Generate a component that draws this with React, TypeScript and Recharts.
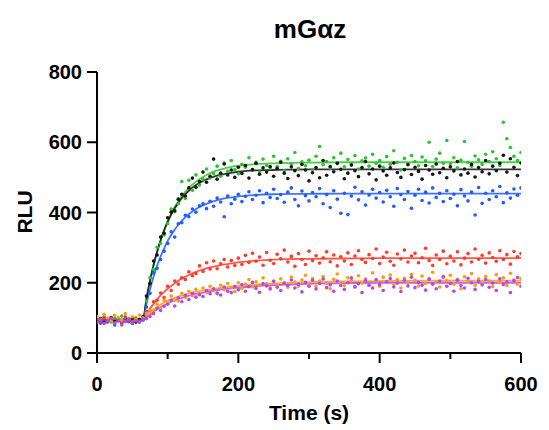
import React from "react";
import {
  ComposedChart,
  Scatter,
  Line,
  XAxis,
  YAxis,
} from "recharts";

// ---------- data ----------
const TIMES = [
  0, 5, 10, 15, 20, 25, 30, 35, 40, 45,
  50, 55, 60, 65, 70, 75, 80, 85, 90, 95,
  100, 105, 110, 115, 120, 125, 130, 135, 140, 145,
  150, 155, 160, 165, 170, 175, 180, 185, 190, 195,
  200, 205, 210, 215, 220, 225, 230, 235, 240, 245,
  250, 255, 260, 265, 270, 275, 280, 285, 290, 295,
  300, 305, 310, 315, 320, 325, 330, 335, 340, 345,
  350, 355, 360, 365, 370, 375, 380, 385, 390, 395,
  400, 405, 410, 415, 420, 425, 430, 435, 440, 445,
  450, 455, 460, 465, 470, 475, 480, 485, 490, 495,
  500, 505, 510, 515, 520, 525, 530, 535, 540, 545,
  550, 555, 560, 565, 570, 575, 580, 585, 590, 595,
  600,
];

const GREEN_PTS = [
  97, 91, 103, 94, 88, 99, 93, 105, 90, 96,
  92, 100, 89, 98, 148, 215, 238, 301, 312, 336,
  368, 410, 402, 425, 488, 440, 492, 463, 507, 478,
  495, 524, 499, 511, 532, 503, 541, 517, 548, 522,
  510, 537, 529, 556, 521, 543, 515, 552, 534, 527,
  560, 531, 546, 519, 553, 538, 571, 525, 544, 533,
  549, 522, 560, 588, 536, 545, 527, 556, 541, 569,
  530, 551, 538, 562, 524, 547, 555, 532, 566, 540,
  548, 529, 559, 537, 576, 543, 521, 554, 539, 562,
  545, 533, 558, 547, 600, 531, 552, 569, 540, 605,
  538, 556, 527, 549, 602, 543, 532, 561, 550, 537,
  566, 545, 573, 553, 534, 657, 610, 585, 560, 548,
  571,
];

const BLACK_PTS = [
  92, 98, 88, 95, 101, 90, 94, 86, 97, 92,
  99, 88, 96, 104, 162, 198, 262, 279, 330, 341,
  385, 401, 405, 438, 452, 447, 470, 498, 472, 488,
  515, 486, 503, 552, 495, 512, 538, 507, 521, 500,
  529, 511, 534, 498, 522, 540, 509, 527, 515, 531,
  503, 526, 543, 512, 497, 530, 519, 505, 537, 521,
  490, 513, 528, 499, 548, 506, 531, 516, 540, 523,
  496, 512, 535, 519, 502, 528, 545, 510, 524, 493,
  532, 518, 506, 527, 541, 514, 500, 522, 536, 508,
  529, 517, 495, 534, 521, 509, 538, 513, 526, 499,
  530, 518, 545, 507, 524, 512, 537, 501, 528, 516,
  548, 510, 532, 519, 540, 563, 515, 553, 529, 505,
  541,
];

const BLUE_PTS = [
  90, 85, 96, 88, 93, 80, 91, 87, 95, 89,
  84, 92, 88, 94, 131, 170, 228, 241, 266, 290,
  312, 345, 330, 368, 371, 392, 388, 410, 401, 419,
  425, 411, 432, 418, 441, 430, 388, 447, 425, 438,
  452, 431, 446, 459, 437, 449, 462, 428, 455, 443,
  466, 440, 451, 429, 458, 470, 437, 419, 461, 448,
  433, 457, 445, 468, 425, 451, 414, 462, 438, 398,
  455, 394, 447, 472, 436, 459, 421, 450, 466, 441,
  457, 430, 463, 445, 418, 468, 451, 437, 460, 412,
  449, 466, 434, 458, 427, 470, 443, 455, 431, 462,
  440, 452, 419, 465, 447, 433, 458, 393, 471, 426,
  455, 437, 462, 445, 474, 428, 456, 441, 467, 449,
  470,
];

const RED_PTS = [
  96, 89, 101, 92, 98, 85, 95, 90, 103, 94,
  88, 97, 91, 99, 118, 121, 146, 150, 171, 158,
  190, 178, 205, 196, 214, 209, 231, 220, 226, 248,
  232, 257, 239, 262, 240, 254, 266, 245, 263, 249,
  270, 252, 278, 258, 284, 261, 273, 250, 286, 264,
  255, 281, 268, 293, 259, 275, 247, 283, 266, 252,
  290, 263, 277, 256, 271, 288, 260, 279, 248, 274,
  262, 285, 252, 276, 291, 266, 258, 280, 269, 296,
  255, 273, 287, 261, 250, 282, 268, 293, 259, 276,
  284, 257, 271, 298, 263, 249, 279, 266, 290, 254,
  275, 262, 288, 251, 270, 283, 259, 296, 267, 278,
  256, 285, 272, 261, 291, 266, 280, 253, 289, 274,
  283,
];

const ORANGE_PTS = [
  104, 96, 110, 99, 91, 107, 101, 94, 112, 98,
  103, 95, 108, 100, 112, 121, 118, 139, 129, 150,
  143, 162, 151, 148, 170, 158, 176, 163, 181, 169,
  185, 172, 190, 177, 168, 193, 180, 198, 186, 175,
  200, 184, 196, 209, 188, 203, 192, 214, 197, 186,
  205, 193, 211, 199, 187, 216, 202, 190, 208, 221,
  196, 212, 189, 205, 218, 198, 183, 210, 225, 201,
  192, 214, 206, 187, 220, 199, 211, 193, 228, 204,
  190, 216, 203, 222, 195, 209, 185, 213, 200, 224,
  207, 191, 219, 198, 212, 230, 202, 188, 215, 206,
  221, 196, 210, 183, 217, 204, 226, 193, 211, 199,
  218, 205, 189, 223, 201, 214, 192, 227, 208, 196,
  212,
];

const PURPLE_PTS = [
  88, 95, 84, 91, 99, 86, 93, 80, 90, 97,
  85, 92, 89, 96, 98, 104, 112, 127, 121, 133,
  139, 150, 134, 157, 146, 164, 152, 170, 159, 166,
  161, 178, 169, 183, 171, 165, 188, 176, 172, 190,
  180, 195, 176, 189, 201, 184, 173, 198, 191, 182,
  204, 187, 178, 199, 193, 208, 185, 196, 174, 201,
  190, 207, 182, 198, 211, 186, 194, 176, 205, 192,
  181, 200, 214, 189, 197, 172, 206, 193, 185, 209,
  195, 178, 203, 212, 188, 199, 175, 207, 191, 216,
  186, 201, 193, 179, 210, 196, 183, 205, 218, 190,
  198, 176, 207, 192, 185, 213, 200, 181, 204, 194,
  209, 187, 199, 178, 211, 195, 203, 172, 206, 215,
  190,
];

// fitted curves
const FIT_TIMES = [
  0, 65, 70, 75, 80, 85, 90, 95, 100, 105, 110, 115, 120, 125, 130,
  140, 150, 160, 170, 180, 190, 200, 225, 250, 300, 350, 400, 500, 600,
];
const GREEN_FIT = [
  95, 95, 154, 204, 249, 287, 320, 349, 375, 397, 416, 432, 447, 459, 470,
  488, 501, 512, 520, 525, 530, 533, 538, 540, 542, 543, 543, 543, 543,
];
const BLACK_FIT = [
  95, 95, 155, 206, 250, 288, 321, 349, 373, 394, 412, 427, 441, 452, 462,
  478, 490, 498, 505, 509, 513, 516, 520, 521, 523, 523, 523, 523, 523,
];
const BLUE_FIT = [
  93, 93, 140, 181, 217, 248, 275, 298, 319, 336, 351, 365, 376, 387, 395,
  410, 420, 429, 435, 440, 443, 446, 450, 452, 453, 454, 454, 454, 454,
];
const RED_FIT = [
  95, 95, 112, 127, 140, 153, 164, 174, 183, 191, 199, 206, 212, 217, 222,
  231, 238, 244, 248, 252, 255, 258, 263, 266, 268, 269, 270, 270, 270,
];
const ORANGE_FIT = [
  95, 95, 106, 116, 124, 131, 138, 144, 149, 153, 157, 161, 164, 167, 169,
  174, 178, 181, 184, 187, 189, 191, 195, 198, 202, 204, 205, 206, 206,
];
const PURPLE_FIT = [
  92, 92, 101, 109, 117, 124, 130, 136, 141, 146, 150, 154, 157, 160, 163,
  168, 172, 176, 179, 182, 184, 186, 190, 193, 197, 199, 200, 200, 200,
];

const X_TICKS = [0, 100, 200, 300, 400, 500, 600];
const Y_TICKS = [0, 200, 400, 600, 800];

const TITLE = "mGαz";
const X_LABEL = "Time (s)";
const Y_LABEL = "RLU";

// ---------- styling ----------
const FONT = "'Liberation Sans', Arial, Helvetica, sans-serif";

const SERIES = [
  { name: "green", pts: GREEN_PTS, fit: GREEN_FIT, color: "#2dc32d" },
  { name: "black", pts: BLACK_PTS, fit: BLACK_FIT, color: "#141414" },
  { name: "blue", pts: BLUE_PTS, fit: BLUE_FIT, color: "#1f5bff" },
  { name: "red", pts: RED_PTS, fit: RED_FIT, color: "#ff3a2a" },
  { name: "orange", pts: ORANGE_PTS, fit: ORANGE_FIT, color: "#ff9a10" },
  { name: "purple", pts: PURPLE_PTS, fit: PURPLE_FIT, color: "#b348f0" },
];

const toPoints = (vals: number[]) =>
  TIMES.map((t, i) => ({ t, v: vals[i] })).filter((d) => d.v !== undefined);
const toFit = (vals: number[]) => FIT_TIMES.map((t, i) => ({ t, v: vals[i] }));

const TICK_SIZE = 10;

const XTick = (props: any) => {
  const { x, y, payload } = props;
  const v = payload.value as number;
  const major = v % 200 === 0;
  const base = y - TICK_SIZE;
  return (
    <g>
      <line
        x1={x}
        x2={x}
        y1={base}
        y2={base + (major ? 10 : 6)}
        stroke="#000"
        strokeWidth={2}
      />
      {major && (
        <text
          x={x}
          y={base + 38}
          textAnchor="middle"
          fontFamily={FONT}
          fontWeight="bold"
          fontSize={20}
          fill="#000"
        >
          {v}
        </text>
      )}
    </g>
  );
};

const YTick = (props: any) => {
  const { x, y, payload } = props;
  return (
    <text
      x={x + 1}
      y={y}
      dy={7}
      textAnchor="end"
      fontFamily={FONT}
      fontWeight="bold"
      fontSize={20}
      fill="#000"
    >
      {payload.value}
    </text>
  );
};

const makeDot = (color: string) => (props: any) => {
  const { cx, cy } = props;
  if (cx == null || cy == null) return <g />;
  return <circle cx={cx} cy={cy} r={1.8} fill={color} />;
};

export default function App() {
  return (
    <div
      style={{
        position: "absolute",
        left: 0,
        top: 0,
        width: 549,
        height: 430,
        background: "#fff",
      }}
    >
      <ComposedChart
        width={549}
        height={430}
        margin={{ top: 72, right: 28, left: 17, bottom: 27 }}
      >
        <XAxis
          dataKey="t"
          type="number"
          domain={[0, 600]}
          ticks={X_TICKS}
          allowDataOverflow
          height={50}
          tickLine={false}
          tickSize={TICK_SIZE}
          tickMargin={0}
          axisLine={{ stroke: "#000", strokeWidth: 2 }}
          tick={<XTick />}
          interval={0}
        />
        <YAxis
          dataKey="v"
          type="number"
          domain={[0, 800]}
          ticks={Y_TICKS}
          allowDataOverflow
          width={80}
          tickSize={TICK_SIZE}
          tickMargin={6}
          tickLine={{ stroke: "#000", strokeWidth: 2 }}
          axisLine={{ stroke: "#000", strokeWidth: 2 }}
          tick={<YTick />}
          interval={0}
        />
        {SERIES.map((s) => (
          <Scatter
            key={"p-" + s.name}
            data={toPoints(s.pts)}
            dataKey="v"
            fill={s.color}
            shape={makeDot(s.color)}
            isAnimationActive={false}
          />
        ))}
        {SERIES.map((s) => (
          <Line
            key={"f-" + s.name}
            data={toFit(s.fit)}
            dataKey="v"
            type="monotone"
            stroke={s.color}
            strokeOpacity={0.85}
            strokeWidth={1.8}
            dot={false}
            activeDot={false}
            isAnimationActive={false}
          />
        ))}
      </ComposedChart>
      <svg
        width={549}
        height={430}
        style={{ position: "absolute", left: 0, top: 0, pointerEvents: "none" }}
      >
        <text
          x={310}
          y={38}
          textAnchor="middle"
          fontFamily={FONT}
          fontWeight="bold"
          fontSize={26}
          fill="#000"
        >
          {TITLE}
        </text>
        <text
          x={309}
          y={420}
          textAnchor="middle"
          fontFamily={FONT}
          fontWeight="bold"
          fontSize={21}
          fill="#000"
        >
          {X_LABEL}
        </text>
        <text
          x={32}
          y={212}
          textAnchor="middle"
          transform="rotate(-90 32 212)"
          fontFamily={FONT}
          fontWeight="bold"
          fontSize={21}
          fill="#000"
        >
          {Y_LABEL}
        </text>
      </svg>
    </div>
  );
}
